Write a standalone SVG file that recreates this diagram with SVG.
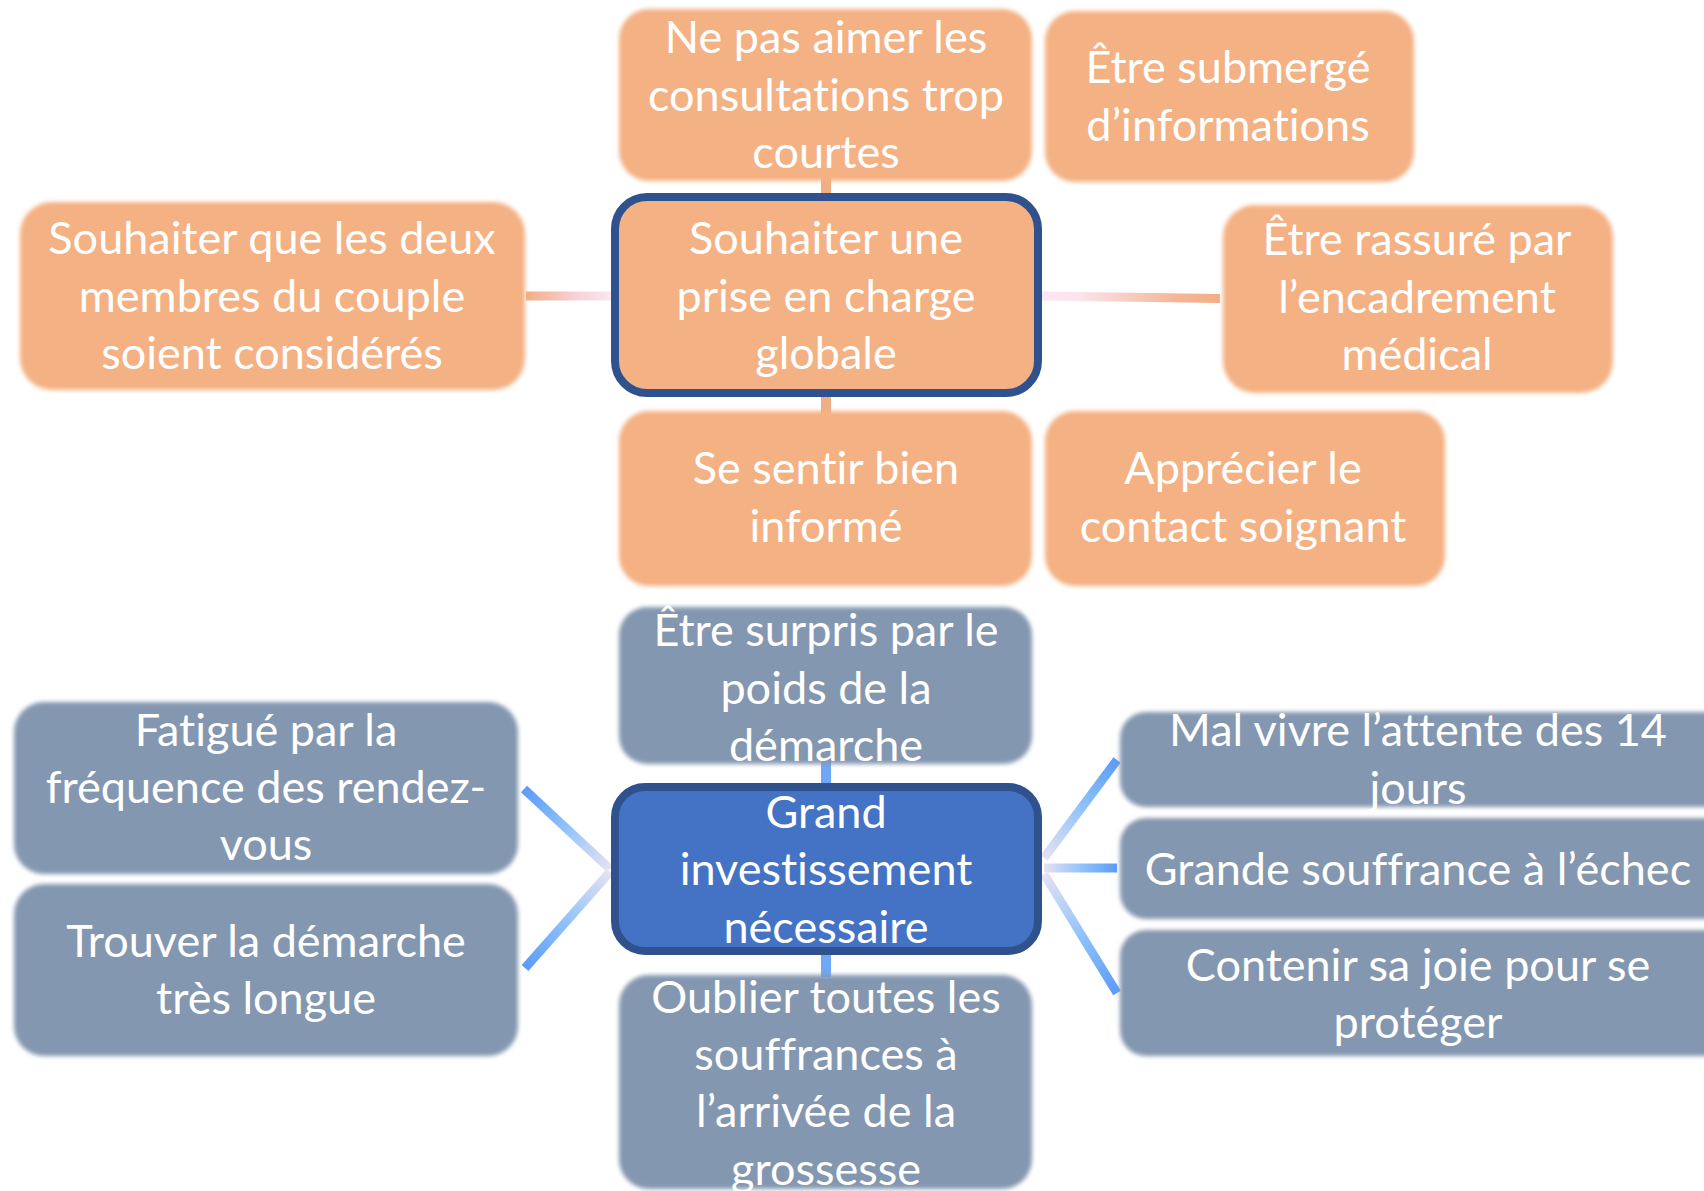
<svg xmlns="http://www.w3.org/2000/svg" width="1704" height="1191" viewBox="0 0 1704 1191">
<defs>
<style>
.o{fill:#F4B183}
.g{fill:#8497B0}
.soft{filter:url(#soft)}
.ctr-o{fill:#F4B183;stroke:#2F528F;stroke-width:8}
.ctr-b{fill:#4472C4;stroke:#2F528F;stroke-width:8}
text{font-family:Lato,"Noto Sans","Liberation Sans",sans-serif;font-size:45px;fill:#FFFFFF;text-anchor:middle;font-variant-ligatures:none}
.stub-o{stroke:#F0AE84;stroke-width:10}
.stub-b{stroke:#6FA8F5;stroke-width:10}
.c{stroke-width:9;fill:none}
</style>
<filter id="soft" x="-5%" y="-5%" width="110%" height="110%"><feGaussianBlur stdDeviation="2"/></filter>
<linearGradient id="gL" gradientUnits="userSpaceOnUse" x1="526" y1="296" x2="612" y2="296"><stop offset="0" stop-color="#F2AE86"/><stop offset="0.6" stop-color="#F7D3D9"/><stop offset="1" stop-color="#FCE6F2"/></linearGradient>
<linearGradient id="gR" gradientUnits="userSpaceOnUse" x1="1042" y1="296" x2="1220" y2="298"><stop offset="0" stop-color="#FCE6F2"/><stop offset="0.2" stop-color="#FCE4EE"/><stop offset="0.75" stop-color="#F4B698"/><stop offset="1" stop-color="#F2AE86"/></linearGradient>
<linearGradient id="b1" gradientUnits="userSpaceOnUse" x1="524" y1="789" x2="610" y2="869"><stop offset="0" stop-color="#5B9BF8"/><stop offset="0.45" stop-color="#8CC0FA"/><stop offset="1" stop-color="#E6E2F2"/></linearGradient>
<linearGradient id="b2" gradientUnits="userSpaceOnUse" x1="525" y1="968" x2="610" y2="872"><stop offset="0" stop-color="#5B9BF8"/><stop offset="0.45" stop-color="#8CC0FA"/><stop offset="1" stop-color="#E6E2F2"/></linearGradient>
<linearGradient id="b3" gradientUnits="userSpaceOnUse" x1="1044" y1="858" x2="1117" y2="760"><stop offset="0" stop-color="#E6E2F2"/><stop offset="0.55" stop-color="#8CC0FA"/><stop offset="1" stop-color="#5B9BF8"/></linearGradient>
<linearGradient id="b4" gradientUnits="userSpaceOnUse" x1="1044" y1="868" x2="1117" y2="868"><stop offset="0" stop-color="#E6E2F2"/><stop offset="0.55" stop-color="#8CC0FA"/><stop offset="1" stop-color="#5B9BF8"/></linearGradient>
<linearGradient id="b5" gradientUnits="userSpaceOnUse" x1="1044" y1="874" x2="1117" y2="993"><stop offset="0" stop-color="#E6E2F2"/><stop offset="0.55" stop-color="#8CC0FA"/><stop offset="1" stop-color="#5B9BF8"/></linearGradient>
</defs>
<rect width="1704" height="1191" fill="#FFFFFF"/>

<g id="connectors">
<line class="stub-o" x1="826" y1="176" x2="826" y2="200"/>
<line class="stub-o" x1="826" y1="390" x2="826" y2="414"/>
<line class="c" stroke="url(#gL)" stroke-width="10" x1="526" y1="296" x2="612" y2="296"/>
<line class="c" stroke="url(#gR)" stroke-width="10" x1="1042" y1="296" x2="1220" y2="298.5"/>
<line class="stub-b" x1="826" y1="760" x2="826" y2="789"/>
<line class="stub-b" x1="826" y1="949" x2="826" y2="977"/>
<line class="c" stroke="url(#b1)" x1="524" y1="789" x2="610" y2="869"/>
<line class="c" stroke="url(#b2)" x1="525" y1="968" x2="610" y2="872"/>
<line class="c" stroke="url(#b3)" x1="1044" y1="858" x2="1117" y2="760"/>
<line class="c" stroke="url(#b4)" stroke-width="10" x1="1044" y1="868" x2="1117" y2="868"/>
<line class="c" stroke="url(#b5)" x1="1044" y1="874" x2="1117" y2="993"/>
</g>

<g id="n-nepas">
<rect class="o soft" x="619" y="9" width="413" height="172" rx="30"/>
<text><tspan x="826" y="53">Ne pas aimer les</tspan><tspan x="826" y="111">consultations trop</tspan><tspan x="826" y="168">courtes</tspan></text>
</g>
<g id="n-submerge">
<rect class="o soft" x="1045" y="11" width="369" height="171" rx="30"/>
<text><tspan x="1228" y="83">Être submergé</tspan><tspan x="1228" y="141">d’informations</tspan></text>
</g>
<g id="n-globale">
<rect class="ctr-o" x="615" y="197" width="423" height="196" rx="32"/>
<text><tspan x="826" y="254">Souhaiter une</tspan><tspan x="826" y="312">prise en charge</tspan><tspan x="826" y="369">globale</tspan></text>
</g>
<g id="n-couple">
<rect class="o soft" x="20" y="202" width="505" height="188" rx="32"/>
<text><tspan x="272" y="254">Souhaiter que les deux</tspan><tspan x="272" y="312">membres du couple</tspan><tspan x="272" y="369">soient considérés</tspan></text>
</g>
<g id="n-rassure">
<rect class="o soft" x="1223" y="205" width="390" height="188" rx="32"/>
<text><tspan x="1417" y="255">Être rassuré par</tspan><tspan x="1417" y="313">l’encadrement</tspan><tspan x="1417" y="370">médical</tspan></text>
</g>
<g id="n-informe">
<rect class="o soft" x="619" y="411" width="413" height="175" rx="30"/>
<text><tspan x="826" y="484">Se sentir bien</tspan><tspan x="826" y="542">informé</tspan></text>
</g>
<g id="n-contact">
<rect class="o soft" x="1045" y="411" width="400" height="175" rx="30"/>
<text><tspan x="1243" y="484">Apprécier le</tspan><tspan x="1243" y="542">contact soignant</tspan></text>
</g>

<g id="n-surpris">
<rect class="g soft" x="619" y="607" width="413" height="157" rx="28"/>
<text><tspan x="826" y="646">Être surpris par le</tspan><tspan x="826" y="704">poids de la</tspan><tspan x="826" y="761">démarche</tspan></text>
</g>
<g id="n-investissement">
<rect class="ctr-b" x="615" y="787" width="423" height="164" rx="30"/>
<text><tspan x="826" y="828">Grand</tspan><tspan x="826" y="885">investissement</tspan><tspan x="826" y="943">nécessaire</tspan></text>
</g>
<g id="n-fatigue">
<rect class="g soft" x="14" y="702" width="504" height="172" rx="30"/>
<text><tspan x="266" y="746">Fatigué par la</tspan><tspan x="266" y="803">fréquence des rendez-</tspan><tspan x="266" y="860">vous</tspan></text>
</g>
<g id="n-longue">
<rect class="g soft" x="14" y="884" width="504" height="172" rx="30"/>
<text><tspan x="266" y="957">Trouver la démarche</tspan><tspan x="266" y="1014">très longue</tspan></text>
</g>
<g id="n-oublier">
<rect class="g soft" x="619" y="975" width="413" height="214" rx="30"/>
<text><tspan x="826" y="1013">Oublier toutes les</tspan><tspan x="826" y="1070">souffrances à</tspan><tspan x="826" y="1127">l’arrivée de la</tspan><tspan x="826" y="1185">grossesse</tspan></text>
</g>
<g id="n-attente">
<rect class="g soft" x="1120" y="712" width="610" height="95" rx="26"/>
<text><tspan x="1418" y="746">Mal vivre l’attente des 14</tspan><tspan x="1418" y="804">jours</tspan></text>
</g>
<g id="n-echec">
<rect class="g soft" x="1120" y="818" width="610" height="101" rx="26"/>
<text x="1418" y="885">Grande souffrance à l’échec</text>
</g>
<g id="n-joie">
<rect class="g soft" x="1120" y="930" width="610" height="126" rx="26"/>
<text><tspan x="1418" y="981">Contenir sa joie pour se</tspan><tspan x="1418" y="1038">protéger</tspan></text>
</g>
</svg>
